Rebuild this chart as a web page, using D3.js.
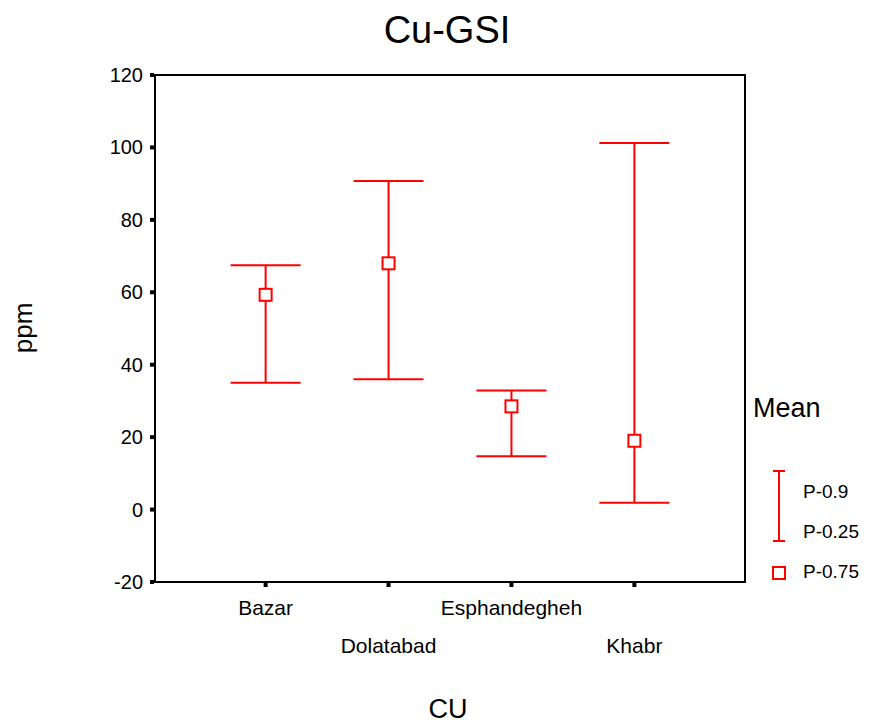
<!DOCTYPE html>
<html><head><meta charset="utf-8">
<script src="https://cdn.jsdelivr.net/npm/d3@7"></script>
<style>body{margin:0;background:#fff}svg{display:block}text{font-family:"Liberation Sans",Arial,sans-serif}</style>
</head><body>
<script>
const categories = ["Bazar","Dolatabad","Esphandegheh","Khabr"];
const p90 = [67.5, 90.7, 32.9, 101.2];
const p25 = [35.0, 36.0, 14.7, 1.9];
const p75 = [59.3, 68.0, 28.5, 19.0];
const yTicks = [-20,0,20,40,60,80,100,120];
const legendLabels = ["P-0.9","P-0.25","P-0.75"];

const W=869,H=723;
const L=155,R=745,T=75,B=582;
const svg=d3.select("body").append("svg").attr("width",W).attr("height",H);
const red="#ff0000";

const x=d3.scalePoint().domain(categories).range([L,R]).padding(0.9);
const y=d3.scaleLinear().domain([-20,120]).range([B,T]);

// frame
svg.append("rect").attr("x",L).attr("y",T).attr("width",R-L).attr("height",B-T)
  .attr("fill","none").attr("stroke","#000").attr("stroke-width",2);

// y axis ticks + labels
const ya=svg.append("g");
yTicks.forEach(v=>{
  ya.append("rect").attr("x",L-5).attr("y",y(v)-2).attr("width",4).attr("height",4).attr("fill","#000");
  ya.append("text").attr("x",L-12).attr("y",y(v)).attr("dy","0.35em").attr("text-anchor","end")
    .attr("font-size",20).text(v);
});

// x axis ticks + labels
categories.forEach((c,i)=>{
  svg.append("rect").attr("x",x(c)-2).attr("y",B+1).attr("width",4).attr("height",4).attr("fill","#000");
  svg.append("text").attr("x",x(c)).attr("y",i%2===0?615:653).attr("text-anchor","middle")
    .attr("font-size",21).text(c);
});

// error bars
const cap=35, sq=12;
categories.forEach((c,i)=>{
  const g=svg.append("g").attr("stroke",red).attr("stroke-width",2).attr("fill","none");
  const cx=x(c);
  g.append("line").attr("x1",cx).attr("x2",cx).attr("y1",y(p90[i])).attr("y2",y(p25[i]));
  g.append("line").attr("x1",cx-cap).attr("x2",cx+cap).attr("y1",y(p90[i])).attr("y2",y(p90[i]));
  g.append("line").attr("x1",cx-cap).attr("x2",cx+cap).attr("y1",y(p25[i])).attr("y2",y(p25[i]));
  g.append("rect").attr("x",cx-sq/2).attr("y",y(p75[i])-sq/2).attr("width",sq).attr("height",sq).attr("fill","#fff");
});

// titles
svg.append("text").attr("x",447).attr("y",43).attr("text-anchor","middle").attr("font-size",38).text("Cu-GSI");
svg.append("text").attr("transform","translate(32,328) rotate(-90)").attr("text-anchor","middle").attr("font-size",26).text("ppm");
svg.append("text").attr("x",448).attr("y",718).attr("text-anchor","middle").attr("font-size",27).text("CU");

// legend
svg.append("text").attr("x",753).attr("y",417).attr("font-size",27).text("Mean");
const lg=svg.append("g").attr("stroke",red).attr("stroke-width",2).attr("fill","none");
lg.append("line").attr("x1",779).attr("x2",779).attr("y1",471).attr("y2",541);
lg.append("line").attr("x1",773).attr("x2",785).attr("y1",471).attr("y2",471);
lg.append("line").attr("x1",773).attr("x2",785).attr("y1",541).attr("y2",541);
lg.append("rect").attr("x",773).attr("y",567).attr("width",12).attr("height",12);
[498,538,578].forEach((yy,i)=>{
  svg.append("text").attr("x",803).attr("y",yy).attr("font-size",19).text(legendLabels[i]);
});
</script>
</body></html>
